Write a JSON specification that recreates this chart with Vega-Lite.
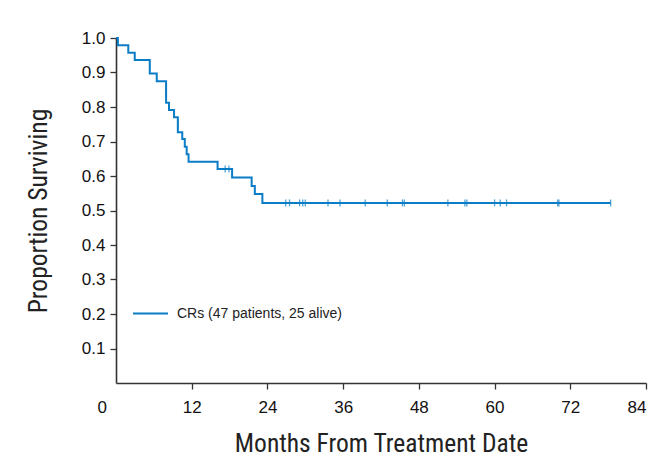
{
  "$schema": "https://vega.github.io/schema/vega-lite/v6.json",
  "autosize": {"type": "none"},
  "padding": {"left": 116, "top": 38, "right": 16, "bottom": 85},
  "width": 530,
  "height": 345,
  "datasets": {
    "km": [
      {"month": 0, "surv": 1.0, "group": "CRs (47 patients, 25 alive)"},
      {"month": 0.3, "surv": 0.979, "group": "CRs (47 patients, 25 alive)"},
      {"month": 1.95, "surv": 0.957, "group": "CRs (47 patients, 25 alive)"},
      {"month": 2.97, "surv": 0.936, "group": "CRs (47 patients, 25 alive)"},
      {"month": 5.35, "surv": 0.897, "group": "CRs (47 patients, 25 alive)"},
      {"month": 6.46, "surv": 0.875, "group": "CRs (47 patients, 25 alive)"},
      {"month": 7.94, "surv": 0.812, "group": "CRs (47 patients, 25 alive)"},
      {"month": 8.4, "surv": 0.791, "group": "CRs (47 patients, 25 alive)"},
      {"month": 9.2, "surv": 0.77, "group": "CRs (47 patients, 25 alive)"},
      {"month": 9.8, "surv": 0.727, "group": "CRs (47 patients, 25 alive)"},
      {"month": 10.5, "surv": 0.707, "group": "CRs (47 patients, 25 alive)"},
      {"month": 10.9, "surv": 0.685, "group": "CRs (47 patients, 25 alive)"},
      {"month": 11.2, "surv": 0.663, "group": "CRs (47 patients, 25 alive)"},
      {"month": 11.5, "surv": 0.641, "group": "CRs (47 patients, 25 alive)"},
      {"month": 16.1, "surv": 0.62, "group": "CRs (47 patients, 25 alive)"},
      {"month": 18.4, "surv": 0.596, "group": "CRs (47 patients, 25 alive)"},
      {"month": 21.5, "surv": 0.571, "group": "CRs (47 patients, 25 alive)"},
      {"month": 22.0, "surv": 0.548, "group": "CRs (47 patients, 25 alive)"},
      {"month": 23.2, "surv": 0.522, "group": "CRs (47 patients, 25 alive)"},
      {"month": 78.4, "surv": 0.522, "group": "CRs (47 patients, 25 alive)"}
    ],
    "censor": [
      {"month": 5.35, "surv": 0.917},
      {"month": 7.94, "surv": 0.854},
      {"month": 7.94, "surv": 0.832},
      {"month": 9.8, "surv": 0.748},
      {"month": 17.3, "surv": 0.62},
      {"month": 17.9, "surv": 0.62},
      {"month": 26.9, "surv": 0.522},
      {"month": 27.5, "surv": 0.522},
      {"month": 29.1, "surv": 0.522},
      {"month": 29.6, "surv": 0.522},
      {"month": 30.0, "surv": 0.522},
      {"month": 33.6, "surv": 0.522},
      {"month": 35.5, "surv": 0.522},
      {"month": 39.5, "surv": 0.522},
      {"month": 43.0, "surv": 0.522},
      {"month": 45.4, "surv": 0.522},
      {"month": 45.7, "surv": 0.522},
      {"month": 52.6, "surv": 0.522},
      {"month": 55.3, "surv": 0.522},
      {"month": 55.6, "surv": 0.522},
      {"month": 60.0, "surv": 0.522},
      {"month": 60.9, "surv": 0.522},
      {"month": 61.9, "surv": 0.522},
      {"month": 70.0, "surv": 0.522},
      {"month": 70.2, "surv": 0.522},
      {"month": 78.4, "surv": 0.522}
    ]
  },
  "config": {
    "view": {"stroke": null},
    "font": "Liberation Sans, sans-serif",
    "axis": {
      "grid": false,
      "domainColor": "#333333",
      "domainWidth": 1.6,
      "tickColor": "#333333",
      "tickWidth": 1.3,
      "tickSize": 6,
      "labelFontSize": 17,
      "labelColor": "#111111",
      "labelOverlap": false,
      "titleFontSize": 25.5,
      "titleFontWeight": "normal",
      "titleColor": "#222222",
      "labelFont": "Liberation Sans, sans-serif",
      "titleFont": "Roboto Condensed, Liberation Sans Narrow, Liberation Sans, sans-serif"
    }
  },
  "encoding": {
    "x": {
      "field": "month",
      "type": "quantitative",
      "scale": {"domain": [0, 84], "nice": false},
      "axis": {
        "title": "Months From Treatment Date",
        "values": [0, 12, 24, 36, 48, 60, 72, 84],
        "labelOverlap": false,
        "labelPadding": 10,
        "titlePadding": 16,
        "labelOffset": {"condition": {"test": "datum.value == 0", "value": -19}, "value": 0},
        "tickOpacity": {"condition": {"test": "datum.value == 0", "value": 0}, "value": 1}
      }
    },
    "y": {
      "field": "surv",
      "type": "quantitative",
      "scale": {"domain": [0, 1], "nice": false},
      "axis": {
        "title": "Proportion Surviving",
        "values": [0.1, 0.2, 0.3, 0.4, 0.5, 0.6, 0.7, 0.8, 0.9, 1.0],
        "tickCount": 10,
        "labelOverlap": false,
        "format": ".1f",
        "labelPadding": 5,
        "titlePadding": 30
      }
    }
  },
  "layer": [
    {
      "data": {"name": "km"},
      "mark": {"type": "line", "interpolate": "step-after", "strokeWidth": 2},
      "encoding": {
        "color": {
          "field": "group",
          "type": "nominal",
          "scale": {"range": ["#0b7dc6"]},
          "legend": {
            "title": null,
            "orient": "none",
            "legendX": 16,
            "legendY": 257,
            "symbolType": "stroke",
            "symbolSize": 1225,
            "symbolStrokeWidth": 2,
            "labelFont": "Liberation Sans, sans-serif",
            "labelFontSize": 14,
            "labelColor": "#222222",
            "labelLimit": 400,
            "labelOffset": 8
          }
        }
      }
    },
    {
      "data": {"name": "censor"},
      "mark": {"type": "tick", "orient": "vertical", "size": 7, "thickness": 1.3, "color": "#0b7dc6"},
      "encoding": {}
    }
  ]
}
